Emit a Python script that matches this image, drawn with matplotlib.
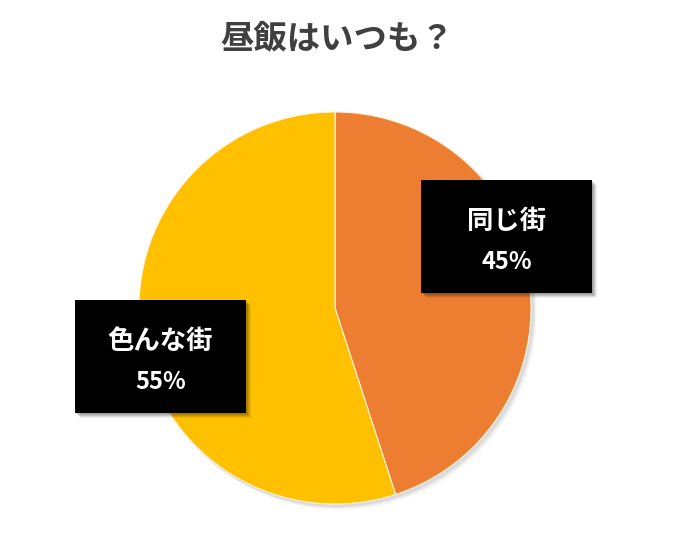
import matplotlib
matplotlib.use("Agg")
import matplotlib.pyplot as plt
from matplotlib.patches import Rectangle, Circle

plt.rcParams['font.family'] = ['Noto Sans CJK JP', 'DejaVu Sans']

title = "昼飯はいつも？"
categories = ["同じ街", "色んな街"]
values = [45, 55]
colors = ["#ED7D31", "#FFC000"]

W, H = 681, 536
fig = plt.figure(figsize=(W / 100, H / 100), dpi=100)
ax = fig.add_axes([0, 0, 1, 1])

cx0, cy0, r0 = 335, H - 308, 196

# soft shadow under the pie
for i, a in enumerate([0.05, 0.04, 0.03, 0.02]):
    ax.add_patch(Circle((cx0 + 2 + i, cy0 - 2 - i), r0 + 1, facecolor="black",
                        alpha=a, linewidth=0, zorder=0))

ax.pie(values, colors=colors, startangle=90, counterclock=False,
       center=(cx0, cy0), radius=r0, frame=True,
       wedgeprops=dict(linewidth=0.8, edgecolor="#FFF3DC"))
ax.set_xlim(0, W)
ax.set_ylim(0, H)
ax.set_aspect("equal")
ax.axis("off")

fig.text(337 / W, 1 - 39 / H, title, ha="center", va="center",
         fontsize=24, fontweight="bold", color="#404040")

# label boxes (left, top, width, height in pixels)
boxes = [(421, 180, 171, 113), (75, 300, 171, 113)]
total = sum(values)
for (bx, by, bw, bh), cat, val in zip(boxes, categories, values):
    # soft shadow
    for i, a in enumerate([0.10, 0.10, 0.10, 0.08, 0.06]):
        off = 1 + i
        ax.add_patch(Rectangle((bx + off, H - by - bh - off), bw, bh,
                               facecolor="black", alpha=a, linewidth=0, zorder=3))
    ax.add_patch(Rectangle((bx, H - by - bh), bw, bh, facecolor="black",
                           linewidth=0, zorder=4))
    cx = bx + bw / 2
    ax.text(cx, H - (by + 41), cat, ha="center", va="center", color="white",
            fontsize=19, fontweight="bold", zorder=5)
    ax.text(cx, H - (by + 82), f"{val / total * 100:.0f}%", ha="center", va="center",
            color="white", fontsize=17, fontweight="bold", zorder=5)

fig.savefig("out.png", dpi=100)
